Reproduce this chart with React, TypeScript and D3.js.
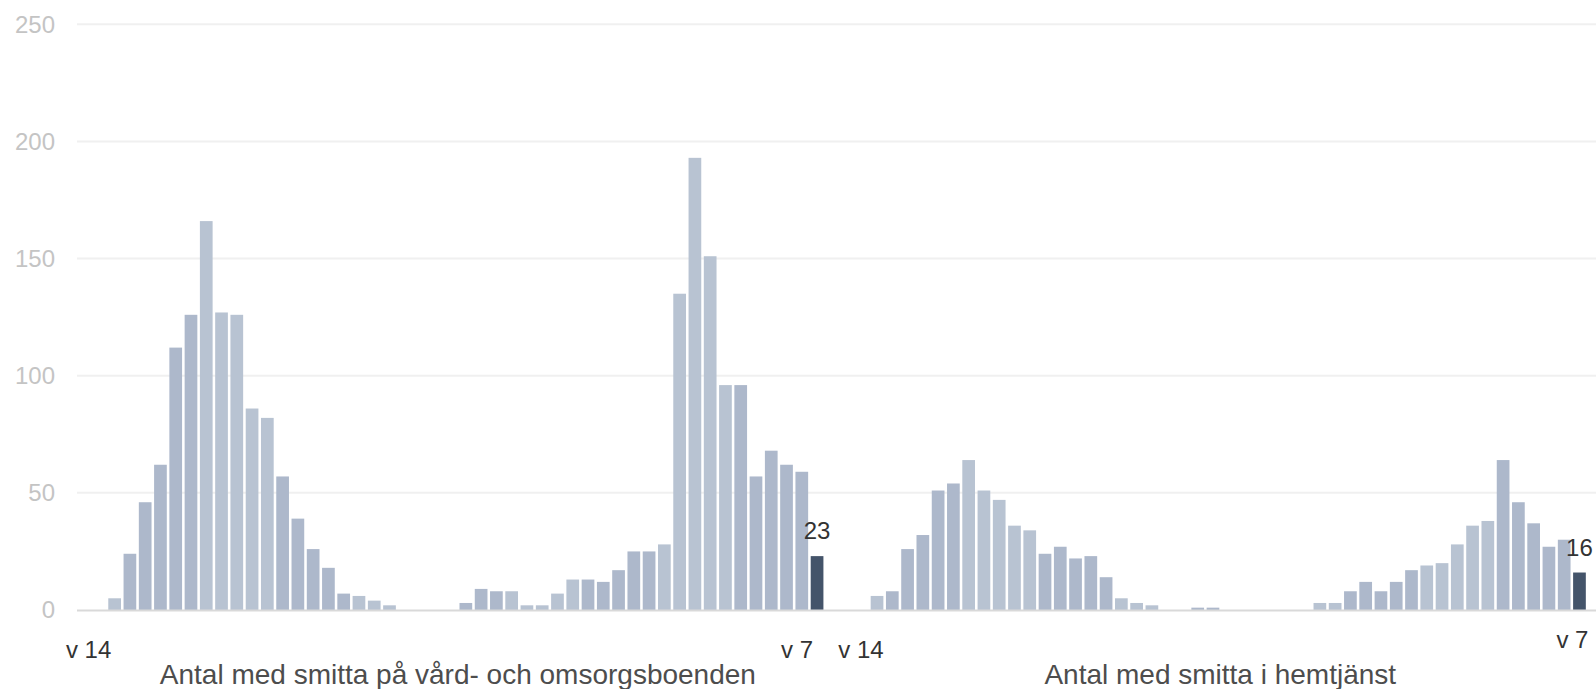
import * as d3 from "d3"

// veckor v 14 (2020) – v 7 (2021)
const veckor: string[] = [...d3.range(14, 54), ...d3.range(1, 8)].map((w) => `v ${w}`)

const boenden: number[] = [
  5, 24, 46, 62, 112, 126, 166, 127, 126, 86, 82, 57, 39, 26, 18, 7, 6, 4, 2,
  0, 0, 0, 0,
  3, 9, 8, 8, 2, 2, 7, 13, 13, 12, 17, 25, 25, 28, 135, 193, 151, 96, 96, 57, 68, 62, 59, 23,
]

const hemtjanst: number[] = [
  6, 8, 26, 32, 51, 54, 64, 51, 47, 36, 34, 24, 27, 22, 23, 14, 5, 3, 2,
  0, 0, 1, 1, 0, 0, 0, 0, 0, 0,
  3, 3, 8, 12, 8, 12, 17, 19, 20, 28, 36, 38, 64, 46, 37, 27, 30, 16,
]

const titlar: string[] = ["Antal med smitta på vård- och omsorgsboenden", "Antal med smitta i hemtjänst"]
const yTicks: number[] = [0, 50, 100, 150, 200, 250]

const W = 1596
const H = 689
const plotLeft = 77
const panelStart = [107, 869.4]
const panelWidth = 717.7
// förskjutning av första/sista etiketten i varje panel
const firstShift = [-26, -16]
const lastShift = [-20, -7]
const lastDy = [0, -10]

const FONT = "'Liberation Sans', Arial, Helvetica, sans-serif"
const DARK = "#adb8cb"
const LIGHT = "#b8c3d2"
const HIGHLIGHT = "#44546a"

function Panel({ data, index }: { data: number[]; index: number }) {
  const y = d3.scaleLinear().domain([0, 250]).range([610, 24.3])
  const x = d3
    .scaleBand<string>()
    .domain(veckor)
    .range([panelStart[index], panelStart[index] + panelWidth])
    .paddingInner(0.168)
    .paddingOuter(0.084)
  const bw = x.bandwidth()
  const last = data.length - 1
  const first = veckor[0]
  const lastWeek = veckor[last]

  return (
    <g>
      {data.map((v, i) => {
        const grupp = Math.floor((last - 1 - i) / 5)
        const fill = i === last ? HIGHLIGHT : grupp % 2 === 1 ? LIGHT : DARK
        if (v === 0) return null
        return (
          <rect
            key={i}
            x={x(veckor[i])}
            y={y(v)}
            width={bw}
            height={y(0) - y(v)}
            fill={fill}
          />
        )
      })}
      <text
        x={(x(lastWeek) ?? 0) + bw / 2}
        y={y(data[last]) - 17}
        textAnchor="middle"
        fontSize={24}
        fill="#333"
      >
        {data[last]}
      </text>
      <text x={(x(first) ?? 0) + bw / 2 + firstShift[index]} y={y(0) + 48} textAnchor="middle" fontSize={24} fill="#333">
        {first}
      </text>
      <text
        x={(x(lastWeek) ?? 0) + bw / 2 + lastShift[index]}
        y={y(0) + 48 + lastDy[index]}
        textAnchor="middle"
        fontSize={24}
        fill="#333"
      >
        {lastWeek}
      </text>
      <text
        x={panelStart[index] + panelWidth / 2 - 8}
        y={y(0) + 74}
        textAnchor="middle"
        fontSize={28}
        fill="#4d4d4d"
      >
        {titlar[index]}
      </text>
    </g>
  )
}

export default function App() {
  const y = d3.scaleLinear().domain([0, 250]).range([610, 24.3])

  return (
    <svg
      width={W}
      height={H}
      style={{ position: "absolute", left: 0, top: 0, background: "#fff" }}
      fontFamily={FONT}
    >
      {yTicks.map((t) => (
        <g key={t}>
          {t > 0 && (
            <line x1={plotLeft} x2={W} y1={y(t)} y2={y(t)} stroke="#f0f0f0" strokeWidth={2} />
          )}
          <text x={55} y={y(t)} dy="0.35em" textAnchor="end" fontSize={24} fill="#c4c4c4">
            {t}
          </text>
        </g>
      ))}
      <Panel data={boenden} index={0} />
      <Panel data={hemtjanst} index={1} />
      <line x1={plotLeft} x2={W} y1={y(0) + 0.5} y2={y(0) + 0.5} stroke="#d9d9d9" strokeWidth={2} />
    </svg>
  )
}
